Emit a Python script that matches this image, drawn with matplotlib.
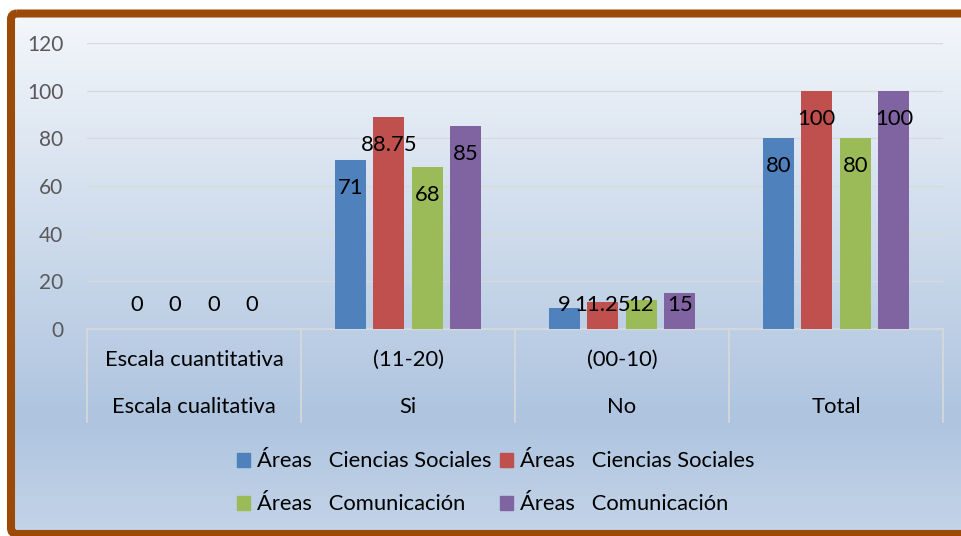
import matplotlib.pyplot as plt
import numpy as np
from matplotlib.patches import Patch, FancyBboxPatch
from matplotlib.colors import LinearSegmentedColormap

# data
categories_top = ["Escala cuantitativa", "(11-20)", "(00-10)", ""]
categories_bottom = ["Escala cualitativa", "Si", "No", "Total"]
series_names = ["Áreas   Ciencias Sociales", "Áreas   Ciencias Sociales",
                "Áreas   Comunicación", "Áreas   Comunicación"]
blue_vals = [0, 71, 9, 80]
red_vals = [0, 88.75, 11.25, 100]
green_vals = [0, 68, 12, 80]
purple_vals = [0, 85, 15, 100]
label_texts = [["0", "71", "9", "80"], ["0", "88.75", "11.25", "100"],
               ["0", "68", "12", "80"], ["0", "85", "15", "100"]]
colors = ["#4F81BD", "#C0504D", "#9BBB59", "#8064A2"]

plt.rcParams['font.family'] = ['Lato', 'DejaVu Sans']
fs = 15.8

W, H = 961, 536
fig = plt.figure(figsize=(W / 100, H / 100), dpi=100)

# background with gradient and brown border
bg = fig.add_axes([0, 0, 1, 1], zorder=0)
bg.set_xlim(0, W)
bg.set_ylim(H, 0)
bg.axis("off")
grad_cmap = LinearSegmentedColormap.from_list(
    "bg", [(0, "#F4F7FB"), (0.78, "#AEC4DF"), (1.0, "#C3D4E8")])
grad = np.linspace(0, 1, 256).reshape(-1, 1)
bg.imshow(grad, cmap=grad_cmap, aspect="auto", extent=[11, W + 20, 533, 13], zorder=0)
border = FancyBboxPatch((11, 13.5), W + 20, 520.5, boxstyle="round,pad=0,rounding_size=6",
                        fill=False, edgecolor="#9C4A08", linewidth=5.8, zorder=1)
bg.add_patch(border)

ax = fig.add_axes([87 / W, 1 - 329 / H, (943 - 87) / W, (329 - 43) / H], zorder=2)
ax.patch.set_alpha(0)

x = np.arange(len(categories_bottom))
bar_w = 0.145
step = 0.18
all_vals = [blue_vals, red_vals, green_vals, purple_vals]
for i, vals in enumerate(all_vals):
    pos = x + (i - 1.5) * step
    ax.bar(pos, vals, bar_w, color=colors[i], zorder=3)
    for p, v, t in zip(pos, vals, label_texts[i]):
        ax.text(p, max(v - 11.75, 10), t, ha="center", va="center",
                fontsize=fs, color="black", zorder=4)

ax.set_xlim(-0.5, 3.5)
ax.set_ylim(0, 120)
ax.set_yticks(range(0, 121, 20))
ax.tick_params(axis="y", length=0, pad=17, labelsize=15, labelcolor="#595959")
ax.set_xticks([])
ax.grid(axis="y", color="#D9D9D9", linewidth=1, zorder=0)
for s in ["left", "right", "top"]:
    ax.spines[s].set_visible(False)
ax.spines["bottom"].set_color("#D9D9D9")
ax.spines["bottom"].set_linewidth(1.2)

# two level category table under the axis
tr = ax.get_xaxis_transform()
for xb in np.arange(-0.5, 4, 1):
    ax.plot([xb, xb], [0, -0.325], transform=tr, color="#D9D9D9", lw=1.2, clip_on=False)
for xi, t1, t2 in zip(x, categories_top, categories_bottom):
    ax.text(xi, -0.108, t1, transform=tr, ha="center", va="center", fontsize=fs)
    ax.text(xi, -0.273, t2, transform=tr, ha="center", va="center", fontsize=fs)

handles = [Patch(color=c) for c in colors]
order = [0, 2, 1, 3]
fig.legend([handles[i] for i in order], [series_names[i] for i in order],
           ncol=2, loc="center", bbox_to_anchor=(0.5156, 0.099), frameon=False,
           fontsize=fs, handlelength=0.6, handleheight=0.6, handletextpad=0.3,
           columnspacing=0.4, labelspacing=1.05)

fig.savefig("out.png", dpi=100)
